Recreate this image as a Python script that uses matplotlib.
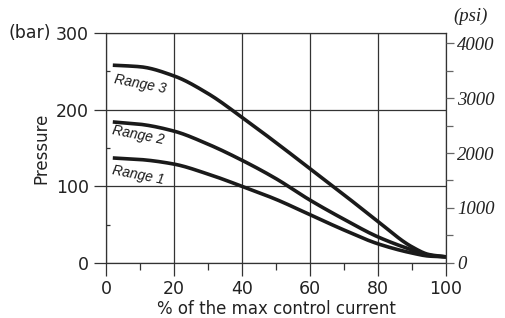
import matplotlib.pyplot as plt
from matplotlib.ticker import MultipleLocator
import numpy as np

# % of the max control current
current = [2, 10, 20, 30, 40, 50, 60, 70, 80, 90, 95, 100]
# pressure in bar for each range
range1 = [137, 135, 129, 116, 100, 83, 63, 43, 25, 13, 9, 8]
range2 = [184, 181, 172, 155, 134, 110, 82, 57, 34, 17, 10, 8]
range3 = [258, 256, 244, 221, 190, 157, 123, 89, 54, 21, 11, 8]

labels = ['Range 1', 'Range 2', 'Range 3']
label_pos = [(9.5, 115), (9.5, 167), (10, 233)]

psi_ticks = [0, 1000, 2000, 3000, 4000]


def smooth_curve(x, y, n=300):
    # monotone cubic (Fritsch-Carlson) through the read points
    x = np.asarray(x, float)
    y = np.asarray(y, float)
    h = np.diff(x)
    d = np.diff(y) / h
    m = np.zeros_like(y)
    m[0], m[-1] = d[0], d[-1]
    for i in range(1, len(x) - 1):
        if d[i - 1] * d[i] > 0:
            w1 = 2 * h[i] + h[i - 1]
            w2 = h[i] + 2 * h[i - 1]
            m[i] = (w1 + w2) / (w1 / d[i - 1] + w2 / d[i])
    xs = np.linspace(x[0], x[-1], n)
    idx = np.clip(np.searchsorted(x, xs) - 1, 0, len(x) - 2)
    t = (xs - x[idx]) / h[idx]
    h00 = 2 * t**3 - 3 * t**2 + 1
    h10 = t**3 - 2 * t**2 + t
    h01 = -2 * t**3 + 3 * t**2
    h11 = t**3 - t**2
    ys = h00 * y[idx] + h10 * h[idx] * m[idx] + h01 * y[idx + 1] + h11 * h[idx] * m[idx + 1]
    return xs, ys


fig = plt.figure(figsize=(5.05, 3.18), dpi=100)
ax = fig.add_axes([0.2099, 0.173, 0.6733, 0.7232])

for ys in (range1, range2, range3):
    xs, yy = smooth_curve(current, ys)
    ax.plot(xs, yy, color='#1a1a1a', lw=2.6, solid_capstyle='butt')

for (lx, ly), txt in zip(label_pos, labels):
    ax.text(lx, ly, txt, fontsize=10, family='Liberation Sans', style='italic',
            rotation=-11, ha='center', va='center', color='#1a1a1a')

ax.set_xlim(0, 100)
ax.set_ylim(0, 300)
ax.xaxis.set_major_locator(MultipleLocator(20))
ax.xaxis.set_minor_locator(MultipleLocator(10))
ax.yaxis.set_major_locator(MultipleLocator(100))
ax.yaxis.set_minor_locator(MultipleLocator(50))
ax.grid(True, which='major', color='#333333', lw=0.9)
ax.tick_params(which='major', direction='out', length=9, width=0.9,
               labelsize=12.5, colors='#333333', labelcolor='#222222')
ax.tick_params(axis='y', which='minor', direction='in', length=3, width=0.9, colors='#333333')
ax.tick_params(axis='x', which='minor', direction='out', length=5, width=0.9, colors='#333333')
for s in ax.spines.values():
    s.set_color('#333333')
    s.set_linewidth(0.9)

ax.set_xlabel('% of the max control current', fontsize=12, color='#222222', labelpad=1)
ax.set_ylabel('Pressure', fontsize=12, color='#222222', labelpad=4)
fig.text(0.016, 0.896, '(bar)', fontsize=12.5, color='#222222', va='center')

ax2 = ax.twinx()
ax2.set_ylim(0, 4182)
ax2.set_yticks(psi_ticks)
ax2.yaxis.set_minor_locator(MultipleLocator(500))
ax2.tick_params(which='major', direction='out', length=6, width=0.9, colors='#666666',
                labelcolor='#222222', pad=2)
ax2.tick_params(which='minor', direction='out', length=5, width=0.9, colors='#666666')
for t in ax2.get_yticklabels():
    t.set_family('Liberation Serif')
    t.set_style('italic')
    t.set_fontsize(13.5)
for s in ax2.spines.values():
    s.set_visible(False)
fig.text(0.898, 0.95, '(psi)', fontsize=13.5, family='Liberation Serif', style='italic',
         color='#222222', va='center')

fig.savefig('out.png', dpi=100)
